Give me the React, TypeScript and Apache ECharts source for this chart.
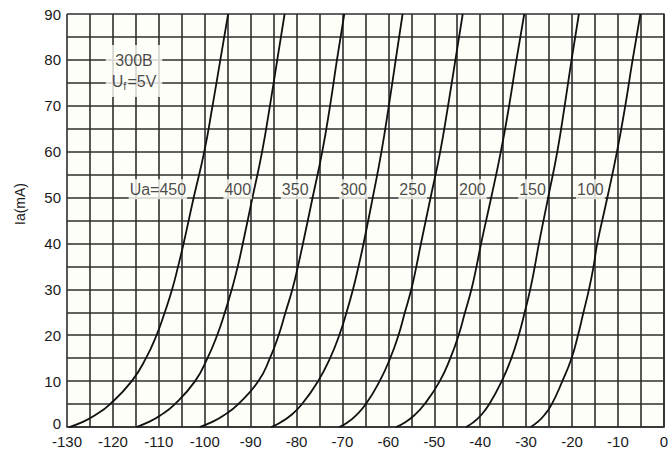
import React, { useEffect, useRef } from "react";
import * as echarts from "echarts";

// Anode current levels (mA) at which each curve's grid voltage was read
const iaLevels = [0, 1, 2.5, 5, 10, 15, 20, 25, 30, 35, 40, 50, 60, 70, 80, 90];

// Grid voltage Ug (V) for each anode voltage curve, at the Ia levels above
const ua450 = [-129.5, -126.8, -124.0, -120.6, -115.9, -112.8, -110.5, -108.7, -107.1, -105.8, -104.6, -102.4, -100.1, -98.3, -96.6, -94.9];
const ua400 = [-114.9, -112.4, -109.7, -106.5, -102.1, -99.4, -97.3, -95.6, -94.1, -92.8, -91.7, -89.6, -87.5, -85.8, -84.2, -82.6];
const ua350 = [-101.1, -98.6, -95.9, -92.7, -88.3, -85.8, -83.9, -82.4, -80.9, -79.7, -78.6, -76.5, -74.4, -72.7, -71.2, -69.6];
const ua300 = [-85.5, -83.5, -81.3, -78.8, -75.3, -72.7, -70.7, -69.1, -67.7, -66.5, -65.4, -63.4, -61.5, -59.9, -58.4, -56.9];
const ua250 = [-70.7, -68.9, -67.1, -64.9, -61.9, -59.6, -57.8, -56.4, -55.0, -53.9, -52.9, -50.8, -48.7, -47.0, -45.4, -43.8];
const ua200 = [-58.3, -56.4, -54.4, -52.1, -48.8, -46.5, -44.7, -43.3, -41.9, -40.8, -39.8, -37.6, -35.5, -33.7, -32.1, -30.4];
const ua150 = [-43.1, -41.5, -39.9, -38.0, -35.3, -33.2, -31.6, -30.3, -29.1, -28.1, -27.2, -25.2, -23.2, -21.6, -20.1, -18.5];
const ua100 = [-29.0, -27.6, -26.1, -24.4, -22.1, -20.1, -18.7, -17.5, -16.3, -15.3, -14.5, -12.3, -10.2, -8.4, -6.8, -5.1];

const curves = [ua450, ua400, ua350, ua300, ua250, ua200, ua150, ua100];

// Curve labels
const curveLabels = ["Ua=450", "400", "350", "300", "250", "200", "150", "100"];
const curveLabelX = [-110.2, -92.8, -80.3, -67.6, -54.7, -41.7, -28.6, -16.0];
const curveLabelY = [51.8, 51.8, 51.8, 51.8, 51.8, 51.8, 51.8, 51.8];

// Tube info box
const infoPos = [-115.4, 77.6];

// Axes
const xMin = -130;
const xMax = 0;
const yMin = 0;
const yMax = 90;
const tickStep = 5;
const yAxisTitle = "Ia(mA)";

export default function App() {
  const ref = useRef<HTMLDivElement>(null);

  useEffect(() => {
    if (!ref.current) return;
    const chart = echarts.init(ref.current, null, { renderer: "svg" });
    const font = "Liberation Sans, Arial, sans-serif";
    const gridColor = "#2e2e2e";
    const paper = "#fefef8";

    const lineSeries = curves.map((xs, i) => ({
      type: "line",
      name: curveLabels[i],
      data: xs.map((x, k) => [x, iaLevels[k]]),
      showSymbol: false,
      smooth: 0.5,
      lineStyle: { color: "#111", width: 1.8 },
      silent: true,
      z: 3,
    }));

    const tickLabel = (v: number) => (v % 10 === 0 ? String(v) : "");
    const yTickLabel = (v: number) =>
      v === yMin ? `{z|${v}}` : v % 10 === 0 ? String(v) : "";

    const option: any = {
      animation: false,
      backgroundColor: "#ffffff",
      grid: {
        left: 67,
        right: 6,
        top: 14,
        bottom: 26,
        show: true,
        backgroundColor: paper,
        borderWidth: 0,
      },
      xAxis: {
        type: "value",
        min: xMin,
        max: xMax,
        interval: tickStep,
        axisLine: { show: true, lineStyle: { color: gridColor, width: 1.6 } },
        axisTick: { show: false },
        splitLine: { show: true, lineStyle: { color: gridColor, width: 1.6 } },
        axisLabel: {
          margin: 7,
          color: "#1a1a1a",
          fontFamily: font,
          fontSize: 15,
          lineHeight: 14,
          formatter: tickLabel,
        },
      },
      yAxis: {
        type: "value",
        min: yMin,
        max: yMax,
        interval: tickStep,
        axisLine: { show: true, lineStyle: { color: gridColor, width: 1.6 } },
        axisTick: { show: false },
        splitLine: { show: true, lineStyle: { color: gridColor, width: 1.6 } },
        axisLabel: {
          margin: 6,
          color: "#1a1a1a",
          fontFamily: font,
          fontSize: 15,
          lineHeight: 12,
          formatter: yTickLabel,
          rich: {
            z: {
              color: "#1a1a1a",
              fontFamily: font,
              fontSize: 15,
              lineHeight: 12,
              padding: [0, 0, 7, 0],
            },
          },
        },
      },
      graphic: [
        {
          type: "text",
          x: 20,
          y: 204,
          rotation: Math.PI / 2,
          style: {
            text: yAxisTitle,
            fill: "#1a1a1a",
            font: `14px ${font}`,
            align: "center",
            verticalAlign: "middle",
          },
        },
      ],
      series: [
        ...lineSeries,
        {
          type: "scatter",
          symbolSize: 0,
          silent: true,
          z: 5,
          data: curveLabels.map((n, i) => ({ name: n, value: [curveLabelX[i], curveLabelY[i]] })),
          label: {
            show: true,
            position: "inside",
            formatter: "{b}",
            color: "#1a1a1a",
            fontFamily: font,
            fontSize: 16,
            backgroundColor: paper,
            padding: [2, 1],
          },
        },
        {
          type: "scatter",
          symbolSize: 0,
          silent: true,
          z: 5,
          data: [{ name: "info", value: infoPos }],
          label: {
            show: true,
            position: "inside",
            formatter: "{t|300B}\n{t|U}{sub|f}{t|=5V}",
            backgroundColor: paper,
            padding: [5, 6],
            rich: {
              t: {
                fontFamily: font,
                fontSize: 16,
                color: "#1a1a1a",
                lineHeight: 21,
              },
              sub: {
                fontFamily: font,
                fontSize: 11,
                color: "#1a1a1a",
                lineHeight: 21,
                padding: [9, 1, 0, 0],
              },
            },
          },
        },
      ],
    };

    chart.setOption(option);
    return () => chart.dispose();
  }, []);

  return (
    <div
      ref={ref}
      style={{ position: "fixed", left: 0, top: 0, width: 671, height: 453 }}
    />
  );
}
